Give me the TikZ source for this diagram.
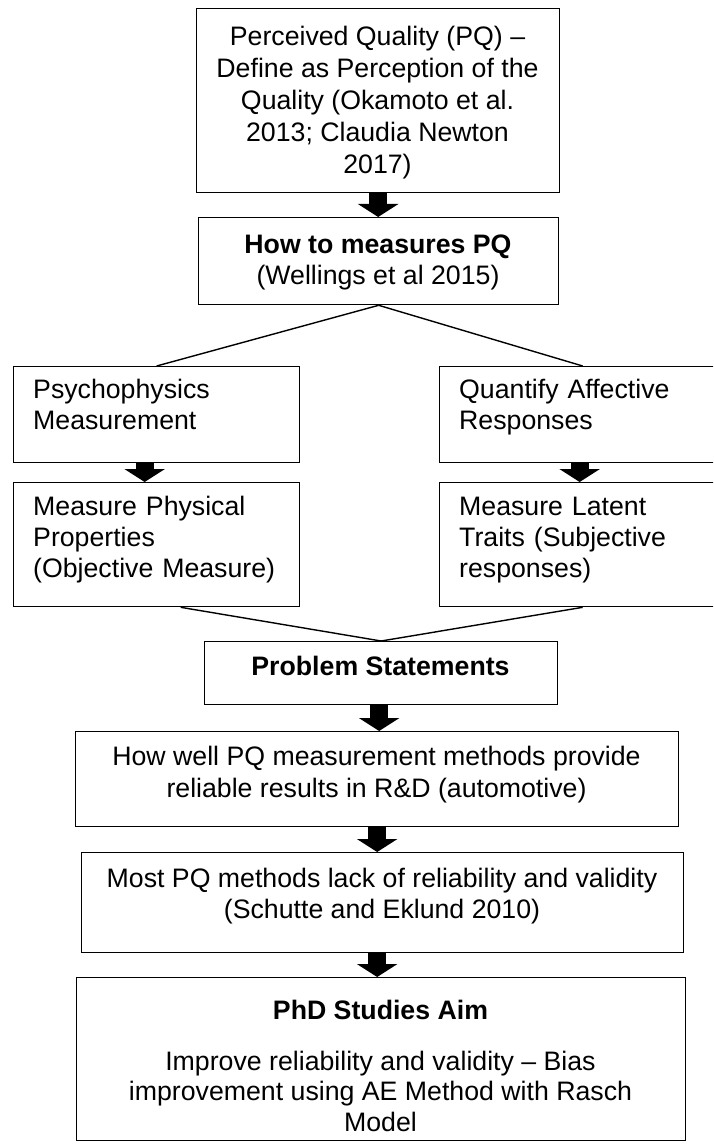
\documentclass[tikz,border=0pt]{standalone}
\usepackage{fontspec}
\setmainfont{Liberation Sans}
\usetikzlibrary{arrows.meta}

% text sizes: 26.7pt type on 31pt lines, and a few leadings of their own
\newcommand\bodyfont{\fontsize{26.7}{31}\selectfont}
\newcommand\leadfont[1]{\fontsize{26.7}{#1}\selectfont}
% a line spread out to the full text width
\newcommand\spreadline[1]{\leavevmode\makebox[245pt][s]{#1}}

\tikzset{
  box/.style={draw, line width=1.3pt, inner sep=0pt, anchor=north west},
  ctext/.style={inner sep=0pt, anchor=north, align=center, font=\bodyfont},
  ltext/.style={inner sep=0pt, anchor=north west, align=left,
                text width=245pt, font=\bodyfont},
  link/.style={line width=1.4pt},
  blk/.style={line width=18pt, -{Triangle[width=40pt,length=13pt]}}
}

\begin{document}
\begin{tikzpicture}[x=1pt,y=-1pt]
\useasboundingbox (0,0) rectangle (713,1147);
\clip (0,0) rectangle (713,1147);
\fill[white] (0,0) rectangle (713,1147);

% frames
\node[box, minimum width=363pt, minimum height=184pt] (pq)   at (196,8)   {};
\node[box, minimum width=360pt, minimum height=87pt]  (how)  at (198,217) {};
\node[box, minimum width=286pt, minimum height=96pt]  (psy)  at (13,366)  {};
\node[box, minimum width=286pt, minimum height=124pt] (phys) at (13,482)  {};
\node[box, minimum width=286pt, minimum height=96pt]  (aff)  at (439,366) {};
\node[box, minimum width=286pt, minimum height=124pt] (lat)  at (439,482) {};
\node[box, minimum width=353pt, minimum height=63pt]  (ps)   at (204,641) {};
\node[box, minimum width=603pt, minimum height=95pt]  (rel)  at (75,731)  {};
\node[box, minimum width=602pt, minimum height=100pt] (lack) at (81,852)  {};
\node[box, minimum width=609pt, minimum height=163pt] (aim)  at (76,977)  {};

% texts
\node[ctext, font=\leadfont{32}] (pq-t) at (377.5,22.6)
  {\strut Perceived Quality (PQ) –\\Define as Perception of the\\Quality (Okamoto et al.\\2013; Claudia Newton\\2017)};
\node[ctext] (how-t) at (378,231.3)
  {\strut\textbf{How to measures PQ}\\(Wellings et al 2015)};
\node[ltext] (psy-t) at (33,376.3)
  {\strut Psychophysics\\Measurement};
\node[ltext] (phys-t) at (33,493.3)
  {\strut\spreadline{Measure Physical}\\Properties\\(Objective Measure)};
\node[ltext] (aff-t) at (459,376.3)
  {\strut\spreadline{Quantify Affective}\\Responses};
\node[ltext] (lat-t) at (459,493.3)
  {\strut\spreadline{Measure Latent}\\\spreadline{Traits (Subjective}\\responses)};
\node[ctext] (ps-t) at (380.5,653.3)
  {\strut\textbf{Problem Statements}};
\node[ctext, font=\leadfont{32.5}] (rel-t) at (376.5,742.25)
  {\strut How well PQ measurement methods provide\\reliable results in R\&D (automotive)};
\node[ctext] (lack-t) at (382,865.3)
  {\strut Most PQ methods lack of reliability and validity\\(Schutte and Eklund 2010)};
\node[ctext] (aim-h) at (380.5,997.3)
  {\strut\textbf{PhD Studies Aim}};
\node[ctext, font=\leadfont{30.5}] (aim-t) at (380.5,1048.65)
  {\strut Improve reliability and validity – Bias\\improvement using AE Method with Rasch\\Model};

% branching and merging lines
\coordinate (physout) at ([xshift=24pt]phys.south);
\draw[link] (how.south) -- (psy.north);
\draw[link] (how.south) -- (aff.north);
\draw[link] (physout) -- (ps.north);
\draw[link] (lat.south) -- (ps.north);

% block arrows
\draw[blk] (pq.south) -- (pq.south |- how.north);
\draw[blk] ([xshift=-12pt]psy.south) -- ([xshift=-12pt]phys.north);
\draw[blk] ([xshift=-3pt]aff.south) -- ([xshift=-3pt]lat.north);
\draw[blk] ([xshift=-2pt]ps.south) -- ([xshift=-2pt]ps.south |- rel.north);
\draw[blk] (rel.south) -- (rel.south |- lack.north);
\draw[blk] (rel.south |- lack.south) -- (rel.south |- aim.north);
\end{tikzpicture}
\end{document}
